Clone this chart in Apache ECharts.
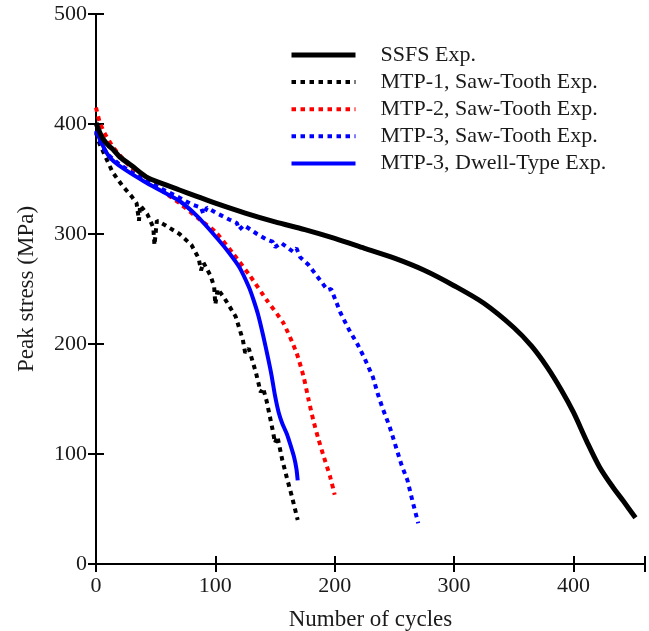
<!DOCTYPE html>
<html>
<head>
<meta charset="utf-8">
<script src="https://cdn.jsdelivr.net/npm/echarts@6/dist/echarts.min.js"></script>
<style>
html,body{margin:0;padding:0;background:#fff;}
#chart{width:649px;height:631px;}
</style>
</head>
<body>
<div id="chart"></div>
<script>
// ---- Data ----
const seriesNames = ['SSFS Exp.', 'MTP-1, Saw-Tooth Exp.', 'MTP-2, Saw-Tooth Exp.', 'MTP-3, Saw-Tooth Exp.', 'MTP-3, Dwell-Type Exp.'];

const ssfsX = [0, 5, 10, 15, 20, 30, 42, 55, 70, 85, 100, 125, 150, 175, 200, 225, 250, 275, 300, 325, 350, 365, 378, 390, 400, 411, 422, 433, 442, 452];
const ssfsY = [401, 388, 381, 376, 370, 362, 352, 346, 340, 334, 328, 319, 311, 304, 296, 287, 278, 267, 253, 237, 215, 198, 179, 158, 138, 112, 88, 70, 57, 42];

const mtp1X = [0, 3, 8, 14, 22, 30, 34, 36, 37, 43, 48, 49, 51, 58, 70, 80, 86, 88, 90, 96, 99, 100, 102, 108, 117, 123, 125, 128, 134, 138, 140, 143, 148, 150, 152, 156, 160, 164, 169];
const mtp1Y = [392, 382, 370, 356, 344, 334, 328, 312, 326, 318, 306, 290, 312, 308, 300, 290, 278, 267, 274, 262, 252, 236, 250, 241, 225, 204, 192, 196, 174, 156, 160, 148, 122, 110, 116, 95, 78, 62, 40];

const mtp2X = [0, 3, 7, 15, 28, 43, 57, 70, 87, 100, 115, 129, 143, 157, 168, 174, 178, 182, 186, 191, 196, 200];
const mtp2Y = [415, 402, 392, 378, 362, 349, 338, 328, 313, 302, 282, 262, 240, 219, 192, 170, 150, 131, 115, 97, 80, 63];

const mtp3sX = [0, 5, 10, 20, 30, 45, 57, 70, 80, 88, 90, 93, 101, 112, 118, 120, 124, 135, 143, 148, 150, 155, 165, 168, 171, 178, 185, 194, 197, 205, 212, 219, 225, 232, 236, 240, 246, 252, 256, 261, 265, 270];
const mtp3sY = [393, 380, 372, 363, 356, 347, 340, 333, 327, 324, 318, 324, 319, 313, 310, 304, 308, 300, 295, 293, 288, 292, 284, 287, 279, 272, 262, 249, 250, 228, 213, 200, 187, 170, 155, 142, 125, 104, 90, 76, 58, 37];

const mtp3dX = [0, 5, 10, 15, 25, 40, 55, 70, 85, 100, 110, 120, 128, 132, 136, 140, 144, 147, 150, 153, 156, 160, 163, 166, 168, 169];
const mtp3dY = [394, 382, 372, 366, 358, 348, 339, 330, 316, 298, 285, 270, 252, 240, 226, 208, 188, 172, 153, 138, 128, 118, 108, 97, 86, 76];

const xTicks = [0, 100, 200, 300, 400];

const zip = (xs, ys) => xs.map((x, i) => [x, ys[i]]);

const FONT = 'Liberation Serif';
const TXT = '#1a1a1a';

const chart = echarts.init(document.getElementById('chart'), null, {renderer: 'canvas'});

const axisLine = {show: true, lineStyle: {color: '#000', width: 2}};
const tick = {show: true, inside: true, length: 8, lineStyle: {color: '#000', width: 2}};

const option = {
  animation: false,
  backgroundColor: '#fff',
  grid: {left: 96, right: 4, top: 14, bottom: 67, containLabel: false, outerBoundsMode: 'none'},
  legend: {
    orient: 'vertical',
    left: 289,
    top: 43.5,
    padding: 0,
    itemWidth: 64,
    itemHeight: 14,
    itemGap: 4.1,
    data: seriesNames,
    itemStyle: {opacity: 0},
    lineStyle: {width: 'inherit'},
    textStyle: {fontFamily: FONT, fontSize: 22, color: TXT, lineHeight: 23, padding: [0, 0, 0, 20]},
    selectedMode: false
  },
  xAxis: [{
    type: 'value', min: 0, max: 460, interval: 100,
    name: 'Number of cycles', nameLocation: 'middle', nameGap: 44,
    nameTextStyle: {fontFamily: FONT, fontSize: 23, color: TXT},
    axisLine: axisLine, axisTick: tick, splitLine: {show: false},
    axisLabel: {fontFamily: FONT, fontSize: 22, color: TXT, margin: 11,
      formatter: v => (xTicks.indexOf(v) >= 0 ? String(v) : '')}
  }, {
    type: 'value', min: 0, max: 460, interval: 100, position: 'top',
    axisLine: axisLine, axisTick: tick, axisLabel: {show: false}, splitLine: {show: false}
  }],
  yAxis: [{
    type: 'value', min: 0, max: 500, interval: 100,
    name: 'Peak stress (MPa)', nameLocation: 'middle', nameGap: 58,
    nameTextStyle: {fontFamily: FONT, fontSize: 23, color: TXT},
    axisLine: axisLine, axisTick: tick, splitLine: {show: false},
    axisLabel: {fontFamily: FONT, fontSize: 22, color: TXT, margin: 9}
  }, {
    type: 'value', min: 0, max: 500, interval: 100, position: 'right',
    axisLine: axisLine, axisTick: tick, axisLabel: {show: false}, splitLine: {show: false}
  }],
  series: [
    {name: seriesNames[0], type: 'line', data: zip(ssfsX, ssfsY), showSymbol: false, symbol: 'none', smooth: 0.3,
      lineStyle: {color: '#000', width: 5}, itemStyle: {color: '#000'}, z: 5},
    {name: seriesNames[1], type: 'line', data: zip(mtp1X, mtp1Y), showSymbol: false, symbol: 'none',
      lineStyle: {color: '#000', width: 4, type: [4.5, 4.5], cap: 'butt'}, itemStyle: {color: '#000'}},
    {name: seriesNames[2], type: 'line', data: zip(mtp2X, mtp2Y), showSymbol: false, symbol: 'none', smooth: 0.2,
      lineStyle: {color: '#ff0000', width: 4, type: [4.5, 4.5], cap: 'butt'}, itemStyle: {color: '#ff0000'}},
    {name: seriesNames[3], type: 'line', data: zip(mtp3sX, mtp3sY), showSymbol: false, symbol: 'none',
      lineStyle: {color: '#0000ff', width: 4, type: [4.5, 4.5], cap: 'butt'}, itemStyle: {color: '#0000ff'}},
    {name: seriesNames[4], type: 'line', data: zip(mtp3dX, mtp3dY), showSymbol: false, symbol: 'none', smooth: 0.2,
      lineStyle: {color: '#0000ff', width: 4}, itemStyle: {color: '#0000ff'}}
  ]
};
chart.setOption(option);
</script>
</body>
</html>
